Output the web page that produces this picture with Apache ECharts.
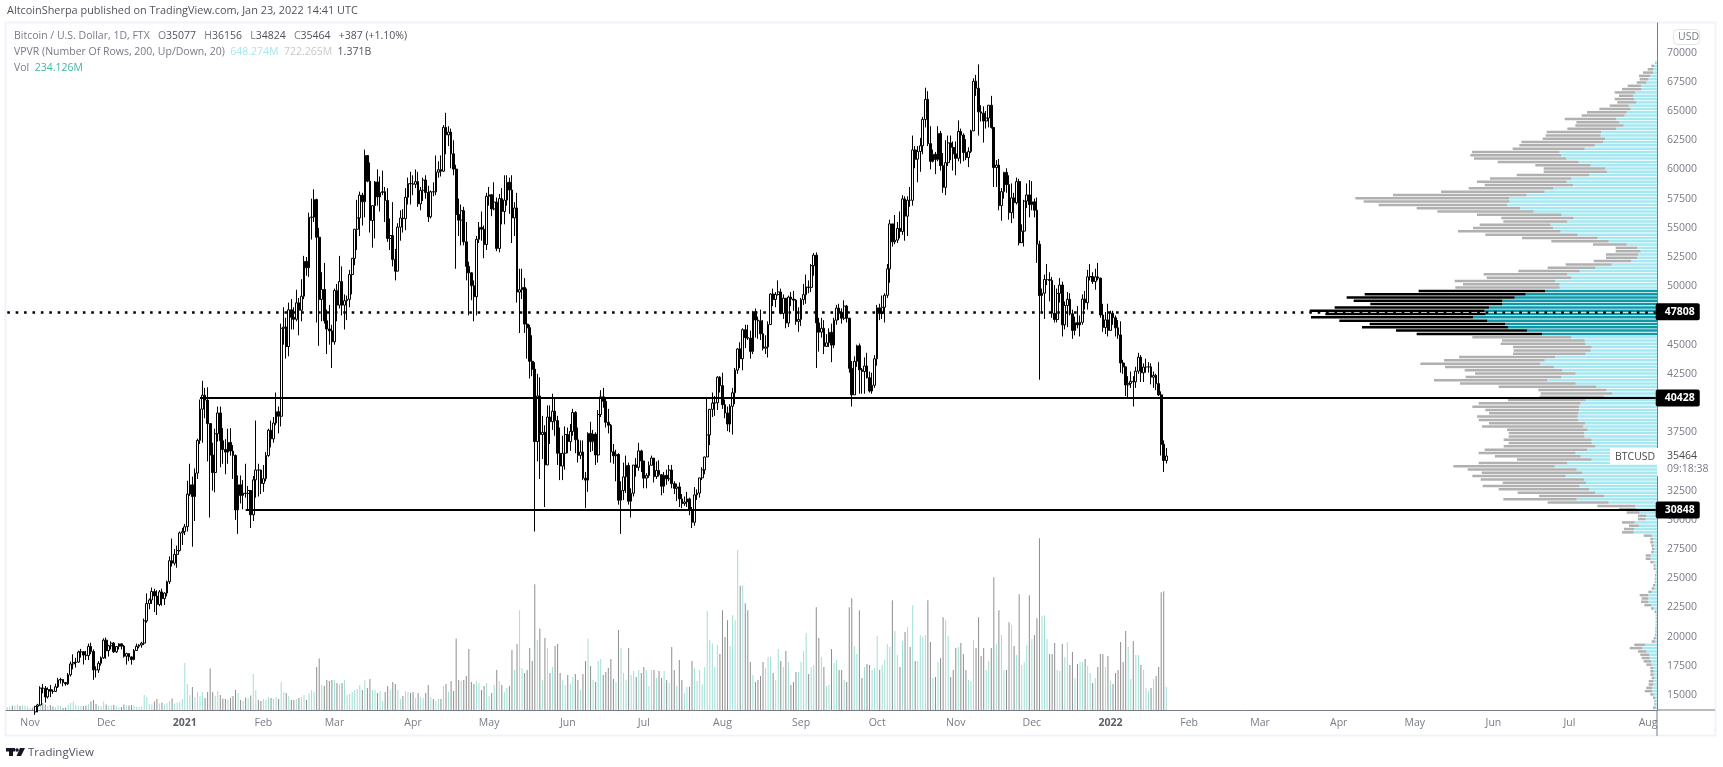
<!DOCTYPE html>
<html><head><meta charset="utf-8"><title>BTCUSD</title>
<script src="https://cdn.jsdelivr.net/npm/echarts@6/dist/echarts.min.js"></script>
<style>html,body{margin:0;padding:0;background:#fff}#c{width:1723px;height:767px}</style></head>
<body><div id="c"></div>
<script>
const firstOpen = 12820;
const closes = [12930,13110,13030,13070,13500,13270,13460,13560,13600,
13600,13550,14030,14150,15590,15580,14840,15480,15330,15310,15700,16290,16330,16070,15960,16730,17660,17780,17820,18680,18710,18420,18370,19160,18730,17150,17140,17720,18180,19700,
18800,19220,19440,18700,19160,19380,19180,18320,18550,18260,18040,18810,19170,19280,19440,21350,22830,23140,23860,23480,22750,23830,23250,23730,24700,26500,26290,27040,27370,28880,28990,
29410,32200,33000,31990,34000,36800,39480,40670,40250,38240,35550,34050,37370,39150,36770,36020,35800,36630,35890,35510,30850,33000,32090,32280,32260,32510,30430,33420,34270,34260,33110,
33520,35510,37670,36930,38290,39260,38870,46400,46500,44840,47980,47340,47170,48580,47940,49150,52130,51580,55900,55920,57420,54200,48880,49720,47050,46340,46180,45240,
49630,48380,50400,48380,48760,48880,51000,52390,54880,55850,57800,57230,61190,59000,55630,56900,58930,57650,58030,58100,57350,54090,54340,52300,51290,55060,55840,55780,57620,58790,58770,
58730,58960,57050,58220,59090,58030,55950,58090,58080,59770,59980,59850,63600,62960,63200,61340,60030,56150,55660,56470,53800,51700,51150,50050,49100,54020,55040,54880,53570,57700,
57830,56620,57200,53240,57500,56400,57380,58900,58240,55850,56700,49500,49700,49900,46760,46450,43570,42900,36700,40600,37300,37500,34700,38800,38400,39300,38500,35700,34600,35700,37300,
36700,37570,39190,36850,35520,35800,33570,33400,37400,36690,37340,35550,39020,40530,40150,38350,38100,35820,35480,35600,31680,32510,33680,34660,31590,32280,34690,34500,35900,35040,
33570,33800,34670,35290,33700,34230,33860,32880,33810,33510,34260,33100,32700,32820,31790,31390,31530,31790,30820,29790,32140,32290,33590,34280,35380,37270,39460,39990,40020,42210,41490,
39860,39150,38200,39720,40880,42820,44630,43800,46280,45600,45560,44420,47830,47110,47040,45930,44690,44800,46720,49330,48870,49290,49510,47680,48980,46850,49070,48900,48810,46990,47160,
48850,49280,49940,49900,51760,52660,46860,46070,46400,44850,45160,46060,44960,47090,48130,47770,47260,48300,47260,42970,40700,43570,44900,42840,42700,43170,42170,41030,41520,43790,
48150,47660,48200,49230,51490,55340,53800,53950,54960,54690,57480,56000,57370,57360,61670,60880,61530,62030,64280,66000,62210,60690,61300,60860,63080,60330,58470,60580,62270,61890,61340,
60950,63250,62940,61450,61010,61530,63300,67550,66950,64930,64820,64150,64400,65500,63600,60160,60370,56900,58100,59750,58700,56300,57570,57150,58960,53730,54720,57290,57820,56990,
57230,56510,53600,49200,49400,50580,50580,50500,47680,47150,49390,50100,46700,48350,48880,47640,46210,46880,46690,46910,48900,48590,50810,50830,50400,50800,50700,47540,46470,47120,46220,
47700,47300,46440,45830,43430,43100,41550,41680,41860,41820,42730,43920,42590,43080,43090,43100,42210,42370,41660,40700,36470,35077,35464];
const highs = [13030,13180,13350,13240,13600,13600,13640,13650,13650,
13650,13650,14070,14250,15750,15950,15780,15650,15850,15480,15970,16480,16480,16340,16120,16880,17860,18480,18190,18800,18950,18750,18770,19400,19480,18900,17450,17900,18300,19850,
19920,19300,19600,19530,19200,19430,19390,19290,18620,18560,18310,18940,19400,19350,19560,21550,23700,23270,24200,24100,23970,23990,24100,23790,24800,26870,28400,27500,27800,29000,29300,
29650,33350,34800,33700,34400,36950,40300,41900,41300,41350,38200,36600,37800,39700,39700,37850,36900,37800,37850,36400,35600,33800,33800,33400,34800,32900,32550,33750,38500,34800,34300,
34700,35800,37800,38500,38800,40900,39700,46800,48200,47300,48600,48900,48200,49700,49000,50600,52600,52500,56300,57500,58300,57500,55000,51200,52000,48000,48400,46700,
49800,50200,52600,51700,49300,49200,51400,52400,54900,57400,58100,58000,61700,61100,60600,56900,59000,60000,59400,59900,58500,58400,55800,57200,53200,55400,56500,56600,58400,59300,59800,
59500,60000,59800,58500,59300,59500,58600,58200,58900,61200,60700,61200,63800,64850,63700,63500,62500,60400,57500,57000,56800,55500,52100,51200,50500,54300,55500,56400,55200,58000,
58500,57900,58900,57600,57900,58400,59500,59500,59300,59500,57200,58000,51500,51500,50700,49800,46700,45800,43500,42500,42200,38900,38100,39800,39800,40800,40400,38900,37900,37200,38000,
37900,38200,39500,39300,37900,36800,36800,34100,37500,38400,37700,37500,39400,41100,41300,40500,39500,38200,36500,36000,35700,33300,34900,35500,34900,32700,34700,35300,36600,36000,
35000,34000,35000,35500,35300,35000,35100,33900,34100,34300,34700,34700,33300,33100,33200,32200,32000,32400,31900,31100,32800,32600,33600,34500,35400,40500,39500,40900,40600,42300,42300,
42600,40300,39700,39900,41300,43000,44700,45200,46400,46700,46700,46200,47900,48100,47400,48000,47100,45800,47000,49400,49800,49500,50500,49800,49300,49000,49200,49500,49600,48900,48200,
49000,50200,51000,50500,51900,52850,52900,47300,47300,47100,45900,46400,46800,47300,48400,48500,48100,48800,48400,47300,43600,44000,45000,45100,43000,43900,44300,42700,42600,44100,
48400,48500,49200,49400,51900,55700,55300,56100,55500,56400,57800,57700,57700,58500,62900,62000,62000,62700,64500,67000,66700,63700,61700,61500,63700,63300,61400,62500,62900,62900,62400,
62400,64200,63500,63100,62600,61900,63400,67800,68100,69000,65500,65400,65000,65500,66300,63600,60800,60900,58400,59800,60100,59500,58800,58000,59300,59200,55300,57400,58800,59100,
59000,57500,57600,53900,49800,51000,51900,51200,50800,50100,49800,50700,50400,48700,49500,49400,48000,47400,48300,47500,49300,49600,51400,51900,51200,51500,52000,50700,48500,47800,48500,
47900,47900,47500,47100,47000,43700,43100,42300,42700,42300,43100,44300,44100,43400,43800,43500,43400,42700,42500,43500,41000,36800,36156];
const lows = [12720,12890,12800,12790,13050,12980,12950,13130,13440,
13350,13230,13300,13520,14090,15150,14350,14700,14820,15100,15280,15600,15980,15750,15800,15860,16580,17200,17350,17760,18200,17610,18000,18000,18500,16300,16500,16900,17520,18100,
18100,18300,18900,18600,18600,18900,18900,18200,17600,17900,17600,17970,18800,19000,19050,19280,21200,22350,22800,22100,21850,22600,22650,22700,23450,24500,26000,26100,25900,27300,27850,
28700,29000,32050,27700,29900,33500,36500,36600,38700,35000,30200,32500,32350,36700,34500,34800,33900,34800,35500,33500,30000,28800,31400,30900,31900,30800,29300,29900,31900,32000,32200,
32400,33300,35400,36200,36600,38100,37400,38000,45000,43800,44000,46300,46300,47000,45800,47000,48900,50900,50800,54000,55500,46900,44900,47000,46800,44200,45000,43000,
45000,47000,48100,47500,46300,47100,48200,49300,51800,53100,54300,55200,55900,58900,54600,53300,54100,56900,56400,57800,55500,53800,53100,51700,50500,51300,53900,54600,54800,57000,57000,
57800,58400,56800,56500,57300,57500,55500,55800,57700,57800,59300,59400,59800,61300,62000,60100,59500,51500,54300,53500,53500,50500,47500,48800,47000,47500,53700,53900,52400,53100,
56900,56000,56500,53000,52900,55300,55300,56900,56200,53700,54300,48600,46000,48900,46000,43800,42100,42300,29000,35000,33500,35200,31100,34800,36500,37700,37200,34700,33400,33400,34300,
35700,35900,37200,35700,34900,35200,33400,31000,32400,35800,35900,34700,34900,38800,39600,37900,37400,34900,34800,33300,31300,28800,31700,32300,31300,30200,32000,33700,34200,34100,
32700,32700,33600,34700,33200,33500,33700,32100,32300,33000,33300,32700,32200,31600,31100,31000,31200,31100,30400,29300,29500,31700,31900,33400,33900,36400,36400,38800,38900,39400,40900,
39500,38700,37600,37500,37300,39900,42500,43000,42800,44700,45400,43800,44200,45600,45500,45400,44500,44200,43900,46700,48300,48200,49200,47600,47200,46400,46500,48300,47900,46700,46100,
46600,48400,48500,49400,49500,50900,43000,44400,45600,44200,44800,44800,43500,44700,46700,47100,46800,47100,46900,42600,39700,40700,43100,40800,40800,40800,42100,40900,40800,41300,
43200,47100,47200,46900,49000,50300,53400,53600,53700,54100,54400,53900,54300,56800,56900,60100,58900,59800,61300,63600,62000,60000,60600,59600,60700,59900,58000,57800,60300,60800,59900,
59500,60700,60500,60700,60800,60200,61400,63300,66300,62900,64100,62300,63500,63600,63500,58500,58500,56500,55600,57500,58000,55700,55400,55800,57000,53500,53700,53400,56700,55900,
56500,55900,52000,42000,47700,47200,50100,48700,47300,46900,46900,48600,45700,46300,46500,47500,45500,45800,46400,45700,46700,48000,48000,50500,50200,49700,50500,47300,46100,45900,45700,
46200,46700,45700,45500,42600,42500,40600,40500,41300,39700,41300,42500,41800,41800,42600,42600,41600,41300,41100,40600,35500,34100,34824];
const volumes = [30,30,45,45,55,40,45,45,35,
20,25,30,30,70,70,55,40,50,35,30,50,40,20,25,50,70,85,50,40,40,40,45,60,85,100,60,45,35,85,
55,45,45,50,40,25,30,55,45,45,50,40,30,30,35,150,130,60,55,85,110,65,75,55,70,90,115,65,75,80,110,
470,260,150,230,130,180,140,180,120,180,415,180,140,190,150,115,110,100,120,140,200,170,100,90,125,120,145,360,200,100,90,
110,100,130,120,110,130,110,280,180,170,140,100,100,110,120,130,150,100,170,200,180,430,515,250,240,300,290,300,
300,270,260,270,300,150,160,180,200,210,250,200,300,220,310,200,200,170,190,90,180,240,200,280,260,200,110,140,190,180,170,
180,120,170,130,120,170,250,130,110,90,110,110,240,260,180,290,190,715,300,290,300,340,610,280,260,290,270,200,240,270,
140,170,250,400,290,250,180,220,240,600,400,660,1000,420,370,400,620,490,1260,700,815,300,720,620,370,430,640,660,370,300,250,
350,260,330,360,300,200,360,490,715,440,300,280,490,510,350,380,420,510,310,280,800,620,370,300,620,350,390,330,400,370,
430,400,240,400,400,320,390,320,390,300,270,630,400,240,500,300,170,230,230,490,420,290,400,260,430,990,700,665,430,650,560,
1000,730,900,640,950,900,1600,1245,1250,1070,1000,480,350,280,300,340,480,420,530,530,370,300,610,490,430,590,480,250,280,380,380,
480,590,770,360,430,450,1030,720,530,430,240,250,610,470,500,400,400,300,280,1030,1120,640,560,1000,320,430,460,450,400,420,
740,400,450,500,660,630,1100,790,550,430,690,780,830,630,1050,490,490,750,730,750,1100,680,320,330,480,520,930,900,740,330,400,
620,630,670,560,400,300,290,700,620,930,540,620,400,490,620,1330,660,1000,750,400,400,880,850,640,550,1160,450,480,650,1150,
710,750,920,1720,940,950,710,560,560,670,400,390,660,530,680,450,580,320,460,480,480,510,440,370,270,320,430,560,560,430,540,
290,260,370,400,680,480,790,630,310,690,550,550,450,400,220,190,220,310,340,430,1180,1190,234];
const vpTotal = [6,17,28,42,54,52,61,88,105,127,114,127,119,142,173,210,226,277,242,245,269,331,334,343,407,413,433,555,560,549,478,365,340,340,421,501,540,517,565,648,792,905,880,835,721,659,540,467,461,532,552,597,515,405,317,192,124,124,153,153,190,274,328,416,520,511,607,582,605,715,877,931,910,860,967,1042,995,1038,953,862,885,783,721,554,465,469,432,430,432,594,639,710,636,577,546,574,669,591,475,356,349,352,447,535,554,515,504,540,535,504,525,450,445,445,460,445,460,517,535,486,420,535,611,568,526,554,529,463,523,475,418,354,461,328,179,114,91,57,57,105,84,99,105,40,20,20,17,15,17,34,34,20,10,10,4,6,7,7,12,16,26,52,46,48,38,18,7,4,4,4,4,5,5,6,10,16,68,82,57,50,46,40,32,20,20,20,16,25,25,32,37,20,12,8,8,12];
const vpUp = [4,9,12,12,20,26,32,48,46,66,72,69,62,85,79,91,97,122,113,100,122,167,169,156,162,187,217,292,287,272,235,199,155,150,203,257,271,252,311,337,391,444,442,450,410,370,286,250,269,319,312,289,238,178,145,91,60,49,57,59,77,136,185,232,269,257,306,292,292,336,394,427,464,464,504,517,514,552,509,455,447,390,345,257,217,215,196,199,214,306,337,350,309,284,244,287,330,244,182,151,134,160,214,229,234,234,236,238,236,216,221,208,218,218,196,196,185,210,244,229,196,269,307,241,224,274,219,213,232,204,185,159,241,145,66,62,52,32,34,67,54,69,70,16,12,12,10,9,10,19,19,10,5,4,2,3,4,4,6,8,16,26,26,26,17,10,3,2,2,2,2,2,2,2,4,6,36,44,32,24,22,18,16,12,10,10,8,12,12,14,14,10,6,4,4,4];
const valueAreaRows = [69, 82];
const yTickLabels = [15000,17500,20000,22500,25000,27500,30000,32500,37500,42500,45000,50000,52500,55000,57500,60000,62500,65000,67500,70000];
const xTickDates = ['2020-11-01','2020-12-01','2021-01-01','2021-02-01','2021-03-01','2021-04-01','2021-05-01','2021-06-01','2021-07-01','2021-08-01','2021-09-01','2021-10-01','2021-11-01','2021-12-01','2022-01-01','2022-02-01','2022-03-01','2022-04-01','2022-05-01','2022-06-01','2022-07-01','2022-08-01'];
const xTickLabels = ['Nov','Dec','2021','Feb','Mar','Apr','May','Jun','Jul','Aug','Sep','Oct','Nov','Dec','2022','Feb','Mar','Apr','May','Jun','Jul','Aug'];
const levels = [{price:47808,from:'2020-10-23',dotted:true},{price:40428,from:'2021-01-07'},{price:30848,from:'2021-01-25'}];

const FONT = '"Open Sans", sans-serif';
const GRAY = '#787b86';
const dates = [];
for (let t = Date.UTC(2020,9,23), n = 0; n < 651; n++, t += 864e5) dates.push(new Date(t).toISOString().slice(0,10));
const lastDate = dates[dates.length-1];
const candleData = closes.map((c,i)=>{
  const o = i ? closes[i-1] : firstOpen;
  return [o, c, Math.min(lows[i],o,c), Math.max(highs[i],o,c)];
});
const volData = volumes.map((v,i)=>({value:v, itemStyle:{color: candleData[i][1]>=candleData[i][0] ? '#9fdfd6' : '#8e8e8e'}}));
const inVA = i => i>=valueAreaRows[0] && i<=valueAreaRows[1];
const vpUpData = vpUp.map((v,i)=>({value:v, itemStyle:{color: inVA(i)?'#0c98a8':'#a6e8f1'}}));
const vpDownData = vpTotal.map((t,i)=>({value:t-vpUp[i], itemStyle:{color: inVA(i)?'#000':'#b0b0b0'}}));
const levelLines = levels.map(l=>[
  {coord:[l.from,l.price], symbol:'none', lineStyle:{color:'#000',width:l.dotted?2.6:2,type:l.dotted?[2.6,5.8]:'solid',opacity:1},
   label:{show:true,position:'end',distance:0,formatter:String(l.price),color:'#fff',backgroundColor:'#000',fontFamily:FONT,fontSize:10.5,fontWeight:'bold',padding:[3,5,3,9],borderRadius:2}},
  {coord:[lastDate,l.price], symbol:'none'}]);

const txt = (x,y,text,extra)=>({type:'text',x,y,z:20,silent:true,style:Object.assign({text,fontFamily:FONT,fontSize:10.5,fill:'#787b86',textVerticalAlign:'middle'},extra||{})});
const f = c => ({fill:c,fontFamily:FONT,fontSize:10.5});
const rich = {g:f(GRAY),d:f('#50535e'),u:f('#a6e8f1'),n:f('#c8c8c8'),t:f('#3fb4a5')};
const graphic = [
  {type:'rect',z:0,silent:true,shape:{x:5.5,y:22.5,width:1710,height:713},style:{fill:'none',stroke:'#f0f3fa',lineWidth:2}},
  {type:'line',z:10,silent:true,shape:{x1:1657,y1:710,x2:1715,y2:710},style:{stroke:'#787b86',lineWidth:1}},
  {type:'line',z:10,silent:true,shape:{x1:1657,y1:710,x2:1657,y2:736},style:{stroke:'#787b86',lineWidth:1}},
  {type:'rect',z:11,silent:true,shape:{x:1610,y:448,width:47,height:16},style:{fill:'#fff'}},
  {type:'rect',z:11,silent:true,shape:{x:1657,y:448,width:45,height:28},style:{fill:'#fff'}},
  txt(1615,457,'BTCUSD',{fill:'#4a4a4a'}),
  txt(1667,456.5,'35464',{fill:'#4a4a4a'}),
  txt(1667,469.5,'09:18:38',{fill:'#787b86'}),
  {type:'rect',z:12,silent:true,shape:{x:1673.5,y:29.5,width:26,height:15,r:4},style:{fill:'#fff',stroke:'#e0e3eb',lineWidth:1}},
  txt(1678,37.5,'USD',{fill:'#787b86',z:13}),
  txt(7,11,'AltcoinSherpa published on TradingView.com, Jan 23, 2022 14:41 UTC',{fill:'#50535e',fontSize:10.9}),
  {type:'text',x:14,y:36,z:20,silent:true,style:{text:'{g|Bitcoin / U.S. Dollar, 1D, FTX   O}{d|35077}{g|   H}{d|36156}{g|   L}{d|34824}{g|   C}{d|35464}{d|   +387 (+1.10%)}',rich,textVerticalAlign:'middle'}},
  {type:'text',x:14,y:52,z:20,silent:true,style:{text:'{g|VPVR (Number Of Rows, 200, Up/Down, 20)  }{u|648.274M}{g|  }{n|722.265M}{g|  }{d|1.371B}',rich,textVerticalAlign:'middle'}},
  {type:'text',x:14,y:68,z:20,silent:true,style:{text:'{g|Vol  }{t|234.126M}',rich,textVerticalAlign:'middle'}},
  {type:'rect',z:20,silent:true,shape:{x:6,y:748,width:9,height:3.5},style:{fill:'#131722'}},
  {type:'rect',z:20,silent:true,shape:{x:9,y:748,width:4,height:8},style:{fill:'#131722'}},
  {type:'circle',z:20,silent:true,shape:{cx:17,cy:750,r:1.8},style:{fill:'#131722'}},
  {type:'polygon',z:20,silent:true,shape:{points:[[20,748],[25,748],[21,756],[16.5,756]]},style:{fill:'#131722'}},
  txt(28,752.5,'TradingView',{fontSize:11.5,fill:'#50535e'})
];

const option = {
  animation:false, backgroundColor:'#fff', graphic,
  grid:[{left:6,top:23,right:66,bottom:57},{left:1300,right:66,top:61,bottom:767-709.3}],
  xAxis:[
    {type:'category',gridIndex:0,data:dates,boundaryGap:true,
     axisLine:{lineStyle:{color:'#787b86',width:1}},axisTick:{show:false},splitLine:{show:false},
     axisLabel:{interval:(i,v)=>xTickDates.includes(v),formatter:v=>{const s=xTickLabels[xTickDates.indexOf(v)];return /^20/.test(s)?`{y|${s}}`:s;},
       color:GRAY,fontFamily:FONT,fontSize:10.5,margin:8,hideOverlap:false,rich:{y:{color:'#5d606b',fontFamily:FONT,fontSize:10.5,fontWeight:'bold'}}}},
    {type:'value',gridIndex:1,inverse:true,min:0,max:1071,show:false}
  ],
  yAxis:[
    {type:'value',gridIndex:0,position:'right',min:13718,max:72539,scale:true,
     axisLine:{show:true,onZero:false,lineStyle:{color:'#787b86',width:1}},axisTick:{show:false},splitLine:{show:false},
     axisLabel:{customValues:yTickLabels,formatter:v=>String(v),color:GRAY,fontFamily:FONT,fontSize:10.5,margin:10}},
    {type:'value',gridIndex:0,min:0,max:6880,show:false,splitLine:{show:false}},
    {type:'category',gridIndex:1,inverse:true,data:vpTotal.map((_,i)=>i),show:false}
  ],
  series:[
    {name:'VP up',type:'bar',xAxisIndex:1,yAxisIndex:2,stack:'vp',barWidth:2.5,data:vpUpData,z:1,silent:true},
    {name:'VP down',type:'bar',xAxisIndex:1,yAxisIndex:2,stack:'vp',barWidth:2.5,data:vpDownData,z:1,silent:true},
    {name:'Vol',type:'bar',xAxisIndex:0,yAxisIndex:1,barWidth:1,data:volData,z:2,silent:true},
    {name:'BTCUSD',type:'candlestick',xAxisIndex:0,yAxisIndex:0,barWidth:2.2,data:candleData,z:3,silent:true,
     itemStyle:{color:'#fff',color0:'#000',borderColor:'#000',borderColor0:'#000',borderWidth:1},
     markLine:{silent:true,symbol:'none',animation:false,data:levelLines}}
  ]
};
const chart = echarts.init(document.getElementById('c'),null,{renderer:'canvas'});
chart.setOption(option);
</script></body></html>
